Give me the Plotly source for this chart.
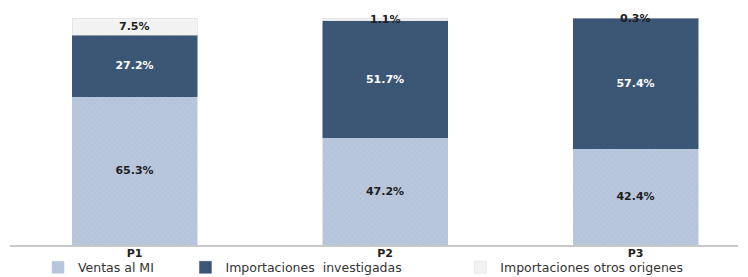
import plotly.graph_objects as go

categories = ["P1", "P2", "P3"]
tick_labels = ["<b>P1</b>", "<b>P2</b>", "<b>P3</b>"]
ventas_mi = [65.3, 47.2, 42.4]
imp_investigadas = [27.2, 51.7, 57.4]
imp_otros = [7.5, 1.1, 0.3]

series = [
    ("Ventas al MI", ventas_mi, "#b8c7dc", "#a0b1c9", "#1e1e1e", "legend"),
    ("Importaciones  investigadas", imp_investigadas, "#3c5676", "#344c6a", "#ffffff", "legend2"),
    ("Importaciones otros origenes", imp_otros, "#f3f3f3", "#e6e6e6", "#1e1e1e", "legend3"),
]

x_idx = list(range(len(categories)))
fig = go.Figure()
for i, (name, vals, col, pcol, tcol, leg) in enumerate(series):
    last = i == len(series) - 1
    fig.add_trace(go.Bar(
        x=x_idx, y=vals, name=name, width=0.499,
        marker=dict(color=col, line=dict(color="#d8d8d8" if last else col, width=0.5),
                    pattern=dict(shape="x", fgcolor=pcol, size=4, solidity=0.15)),
        text=None if last else [f"{v:.1f}%" for v in vals],
        textposition="inside", insidetextanchor="middle", constraintext="none",
        cliponaxis=False,
        textfont=dict(family="DejaVu Sans", size=11, color=tcol, weight="bold"),
        legend=leg,
    ))

# labels of the thin top segment, placed at the segment middle via data coordinates
for xi, a, b, c in zip(x_idx, ventas_mi, imp_investigadas, imp_otros):
    fig.add_annotation(x=xi, y=a + b + c / 2, text=f"{c:.1f}%", showarrow=False,
                       font=dict(family="DejaVu Sans", size=11, color="#1e1e1e", weight="bold"))

legfont = dict(family="DejaVu Sans", size=12.5, color="#333333")
legcommon = dict(orientation="h", y=-0.10, xanchor="left", yanchor="middle",
                 font=legfont, itemwidth=30, bgcolor="rgba(0,0,0,0)")
# page body has an 8px margin, so the figure is sized 8px smaller
fig.update_layout(
    width=740, height=269,
    margin=dict(l=2, r=10, t=10, b=32, autoexpand=False),
    barmode="stack",
    plot_bgcolor="white", paper_bgcolor="white",
    showlegend=True,
    legend=dict(x=0.0385, **legcommon),
    legend2=dict(x=0.241, **legcommon),
    legend3=dict(x=0.6185, **legcommon),
    xaxis=dict(range=[-0.497, 2.409], tickvals=x_idx, ticktext=tick_labels,
               showline=True, linecolor="#c8c8c8", linewidth=2, ticks="",
               showgrid=False, zeroline=False, automargin=False,
               ticklabelstandoff=-3,
               tickfont=dict(family="DejaVu Sans", size=11, color="#222222")),
    yaxis=dict(range=[0, 100], visible=False, showgrid=False, automargin=False),
)
fig.write_html("out.html")
